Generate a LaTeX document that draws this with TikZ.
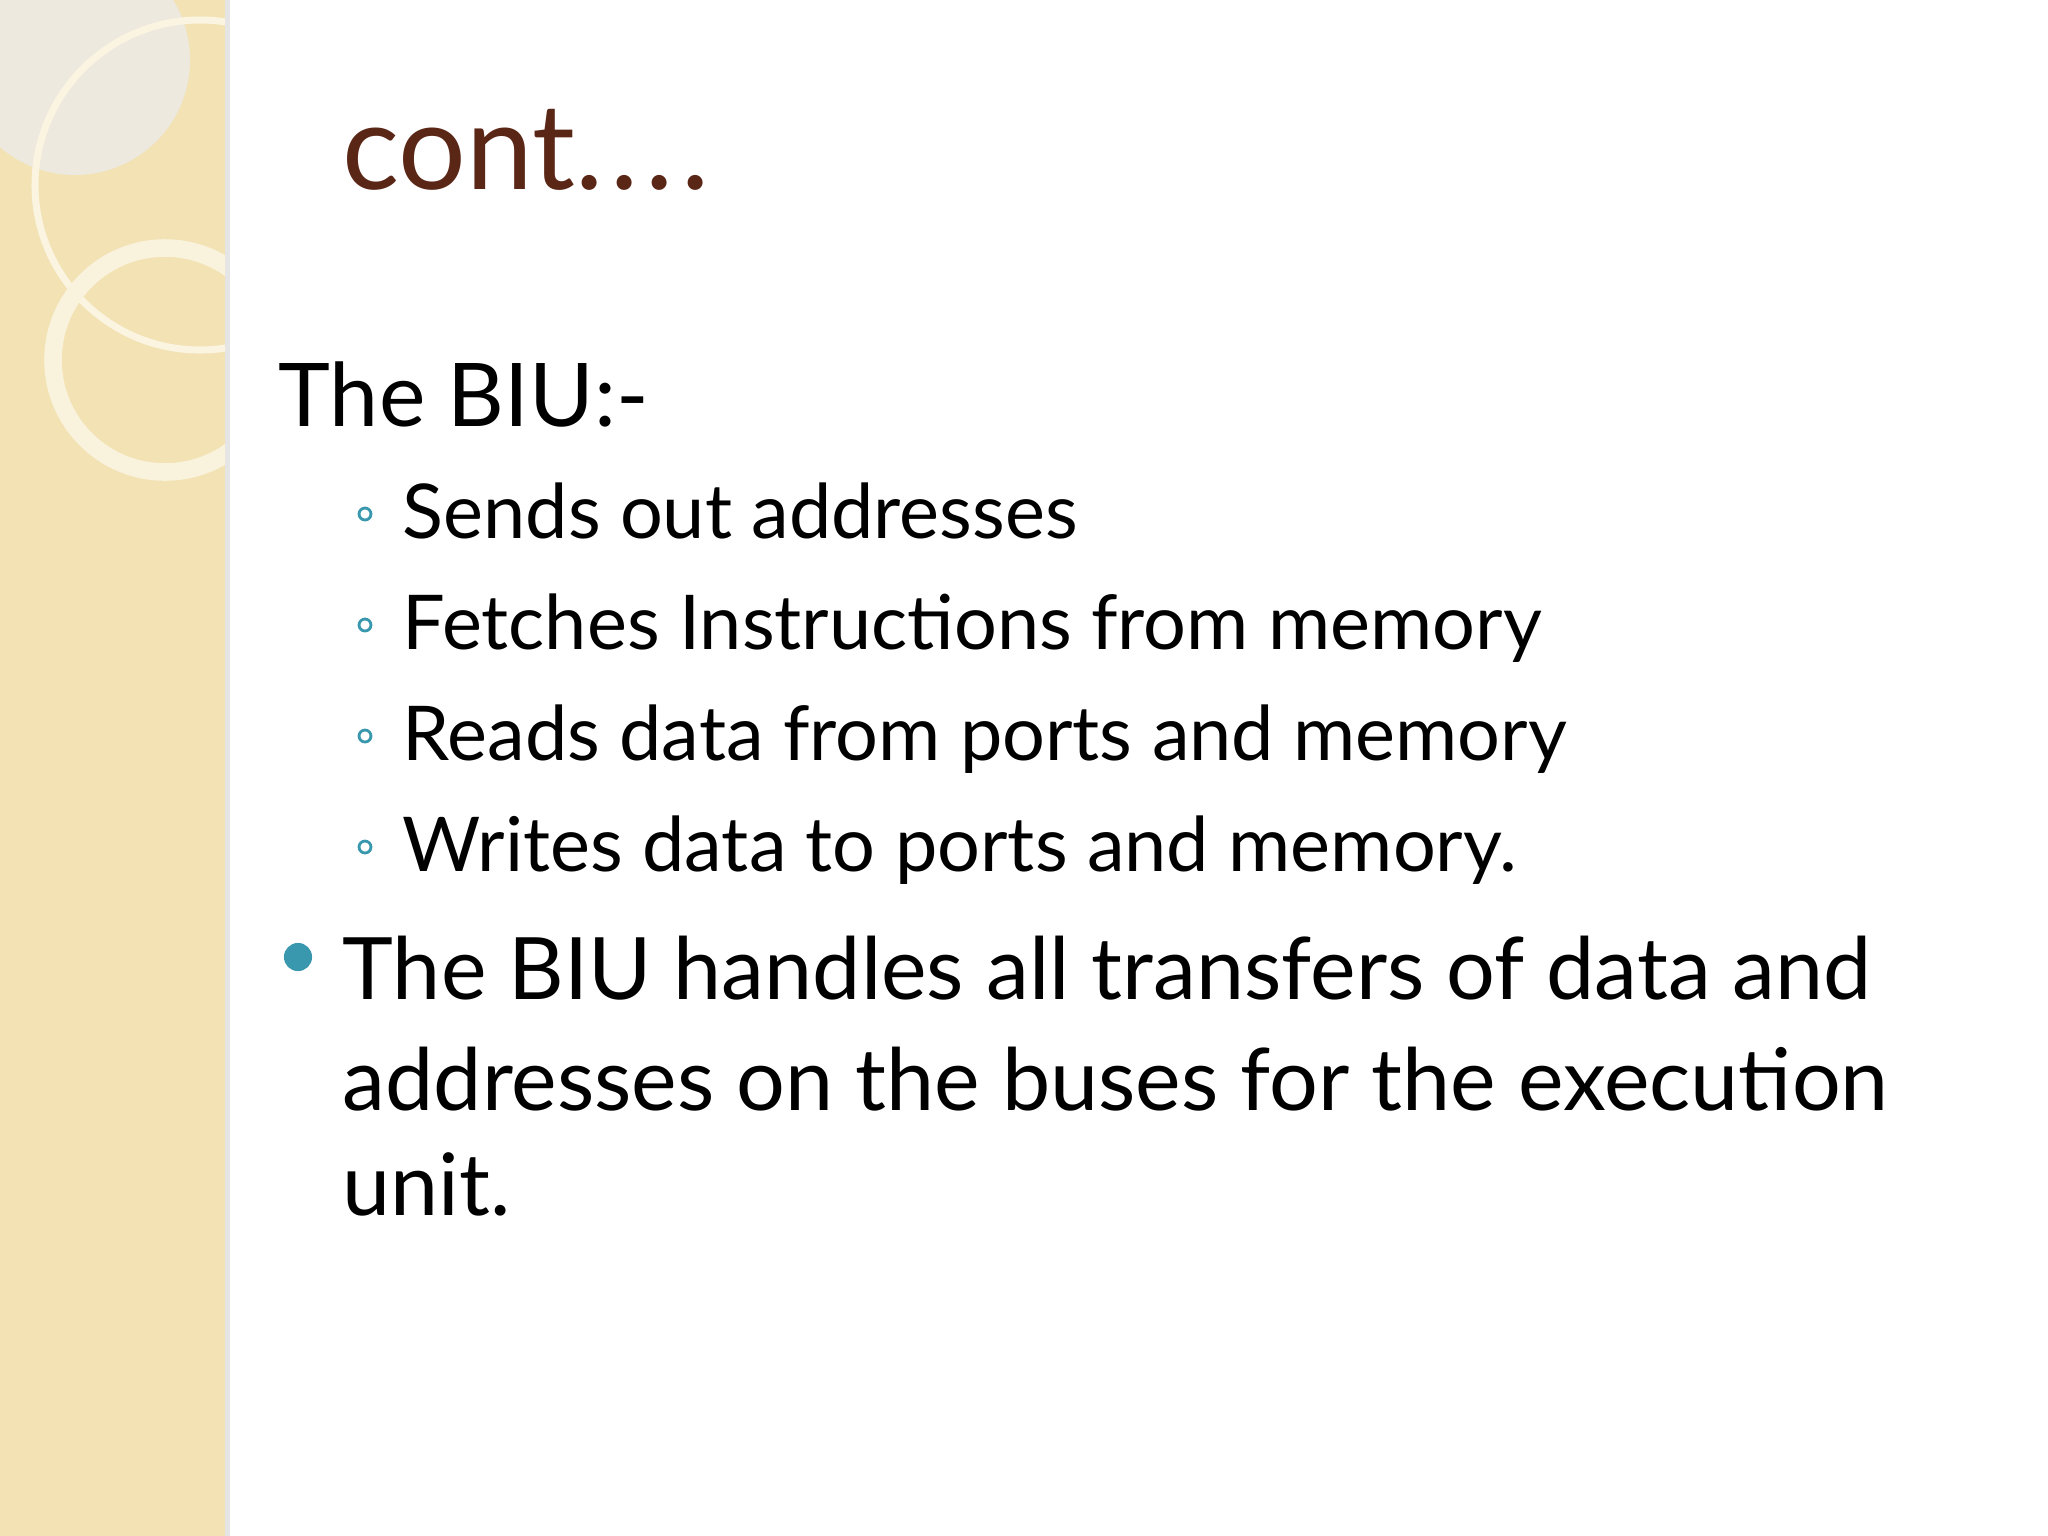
\documentclass[tikz,border=0pt]{standalone}
\usepackage{fontspec}
\setmainfont{Lato}
\begin{document}
\begin{tikzpicture}[x=0.01cm,y=-0.01cm,
  ttl/.style={anchor=base west,inner sep=0,font=\fontsize{34}{40}\selectfont,text=titlec},
  lvl/.style={anchor=base west,inner sep=0,font=\fontsize{25}{30}\selectfont},
  sub/.style={anchor=base west,inner sep=0,font=\fontsize{21.5}{28}\selectfont},
  main/.style={anchor=base west,inner sep=0,font=\fontsize{24.5}{30}\selectfont}]
\definecolor{titlec}{HTML}{5A2616}
\definecolor{band}{HTML}{F2E2B4}
\definecolor{teal}{HTML}{3A98AE}
\useasboundingbox (0,0) rectangle (2048,1536);
\fill[white] (0,0) rectangle (2048,1536);
\fill[band] (0,0) rectangle (225,1536);
\fill[black!10] (225,0) rectangle (230,1536);
\begin{scope}
\clip (0,0) rectangle (225,1536);
\fill[band!80!black!30!white] (75,60) circle (115);
\draw[white!60!band,line width=2] (200,185) circle (165);
\draw[white!55!band,line width=5] (165,360) circle (112);
\end{scope}
\node[ttl] (t) at (342,189) {cont.\kern2pt.\kern2pt.\kern2pt.};
\node[lvl] (b) at (278,426) {The BIU:-};
\foreach \y/\s [count=\i] in {538/Sends out addresses,649/Fetches Instructions from memory,760/Reads data from ports and memory,871/Writes data to ports and memory.}{
  \node[circle,draw=teal,line width=0.8,inner sep=0,minimum size=3.4pt] (c\i) at (365,\y-24) {};
  \node[sub] (s\i) at (402,\y) {\s};
}
\node[circle,fill=teal,inner sep=0,minimum size=8pt] (d) at (298,957) {};
\node[main] (m1) at (342,999) {The BIU handles all transfers of data and};
\node[main] (m2) at (342,1110) {addresses on the buses for the execution};
\node[main] (m3) at (342,1215) {unit.};
\end{tikzpicture}
\end{document}
